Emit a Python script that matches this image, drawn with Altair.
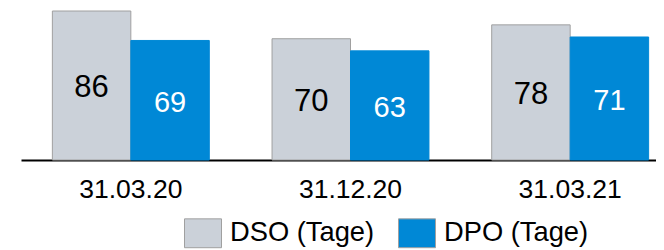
import altair as alt
import pandas as pd

dates = ["31.03.20", "31.12.20", "31.03.21"]
series_names = ["DSO (Tage)", "DPO (Tage)"]
dso = [86, 70, 78]
dpo = [69, 63, 71]

rows = []
for i, d in enumerate(dates):
    rows.append({"date": d, "series": series_names[0], "value": dso[i], "order": 0})
    rows.append({"date": d, "series": series_names[1], "value": dpo[i], "order": 1})
df = pd.DataFrame(rows)

FONT = "Liberation Sans"
GRAY = "#cbd1d9"
BLUE = "#0088d6"

x = alt.X("date:N", sort=dates, title=None,
          scale=alt.Scale(paddingInner=0.2856, paddingOuter=0.1428, range=[0, 659]),
          axis=alt.Axis(labelAngle=0, labelFontSize=26.5, labelColor="#000000",
                        labelFont=FONT, ticks=False, labelPadding=16,
                        domainColor="#000000", domainWidth=2))
xo = alt.XOffset("series:N", sort=series_names,
                 scale=alt.Scale(paddingInner=0, paddingOuter=0))
y = alt.Y("value:Q", scale=alt.Scale(domain=[0, 86], nice=False), axis=None)

bars = alt.Chart(df).mark_bar(strokeWidth=1).encode(
    x=x, xOffset=xo, y=y,
    color=alt.Color("series:N", sort=series_names,
                    scale=alt.Scale(domain=series_names, range=[GRAY, BLUE]),
                    legend=alt.Legend(title=None, orient="none", legendX=163, legendY=203,
                                      direction="horizontal",
                                      symbolType="M-1,-0.78L1,-0.78L1,0.78L-1,0.78Z",
                                      symbolSize=1369, symbolStrokeColor="#a0a0a0",
                                      symbolStrokeWidth=1, symbolOpacity=1,
                                      labelFontSize=27.3, labelFont=FONT,
                                      labelColor="#000000", labelOffset=8,
                                      columnPadding=21, padding=0)),
    stroke=alt.condition(alt.datum.order == 0, alt.value("#a0a0a0"), alt.value(BLUE)),
)

labels = alt.Chart(df).transform_calculate(
    half="datum.value / 2"
).mark_text(baseline="middle", align="center", font=FONT, dy=2.5).encode(
    x=alt.X("date:N", sort=dates), xOffset=xo,
    y=alt.Y("half:Q"),
    text=alt.Text("value:Q"),
    color=alt.condition(alt.datum.order == 0, alt.value("#000000"), alt.value("#ffffff")),
    size=alt.condition(alt.datum.order == 0, alt.value(31), alt.value(29)),
)

chart = alt.layer(bars, labels).properties(
    width=635, height=149,
    padding={"left": 13, "top": 3, "right": 0, "bottom": 90},
    autosize=alt.AutoSizeParams(type="none"),
).configure_view(stroke=None).configure_axis(grid=False)

chart.save("out.html", embed_options={"renderer": "svg", "actions": False})
